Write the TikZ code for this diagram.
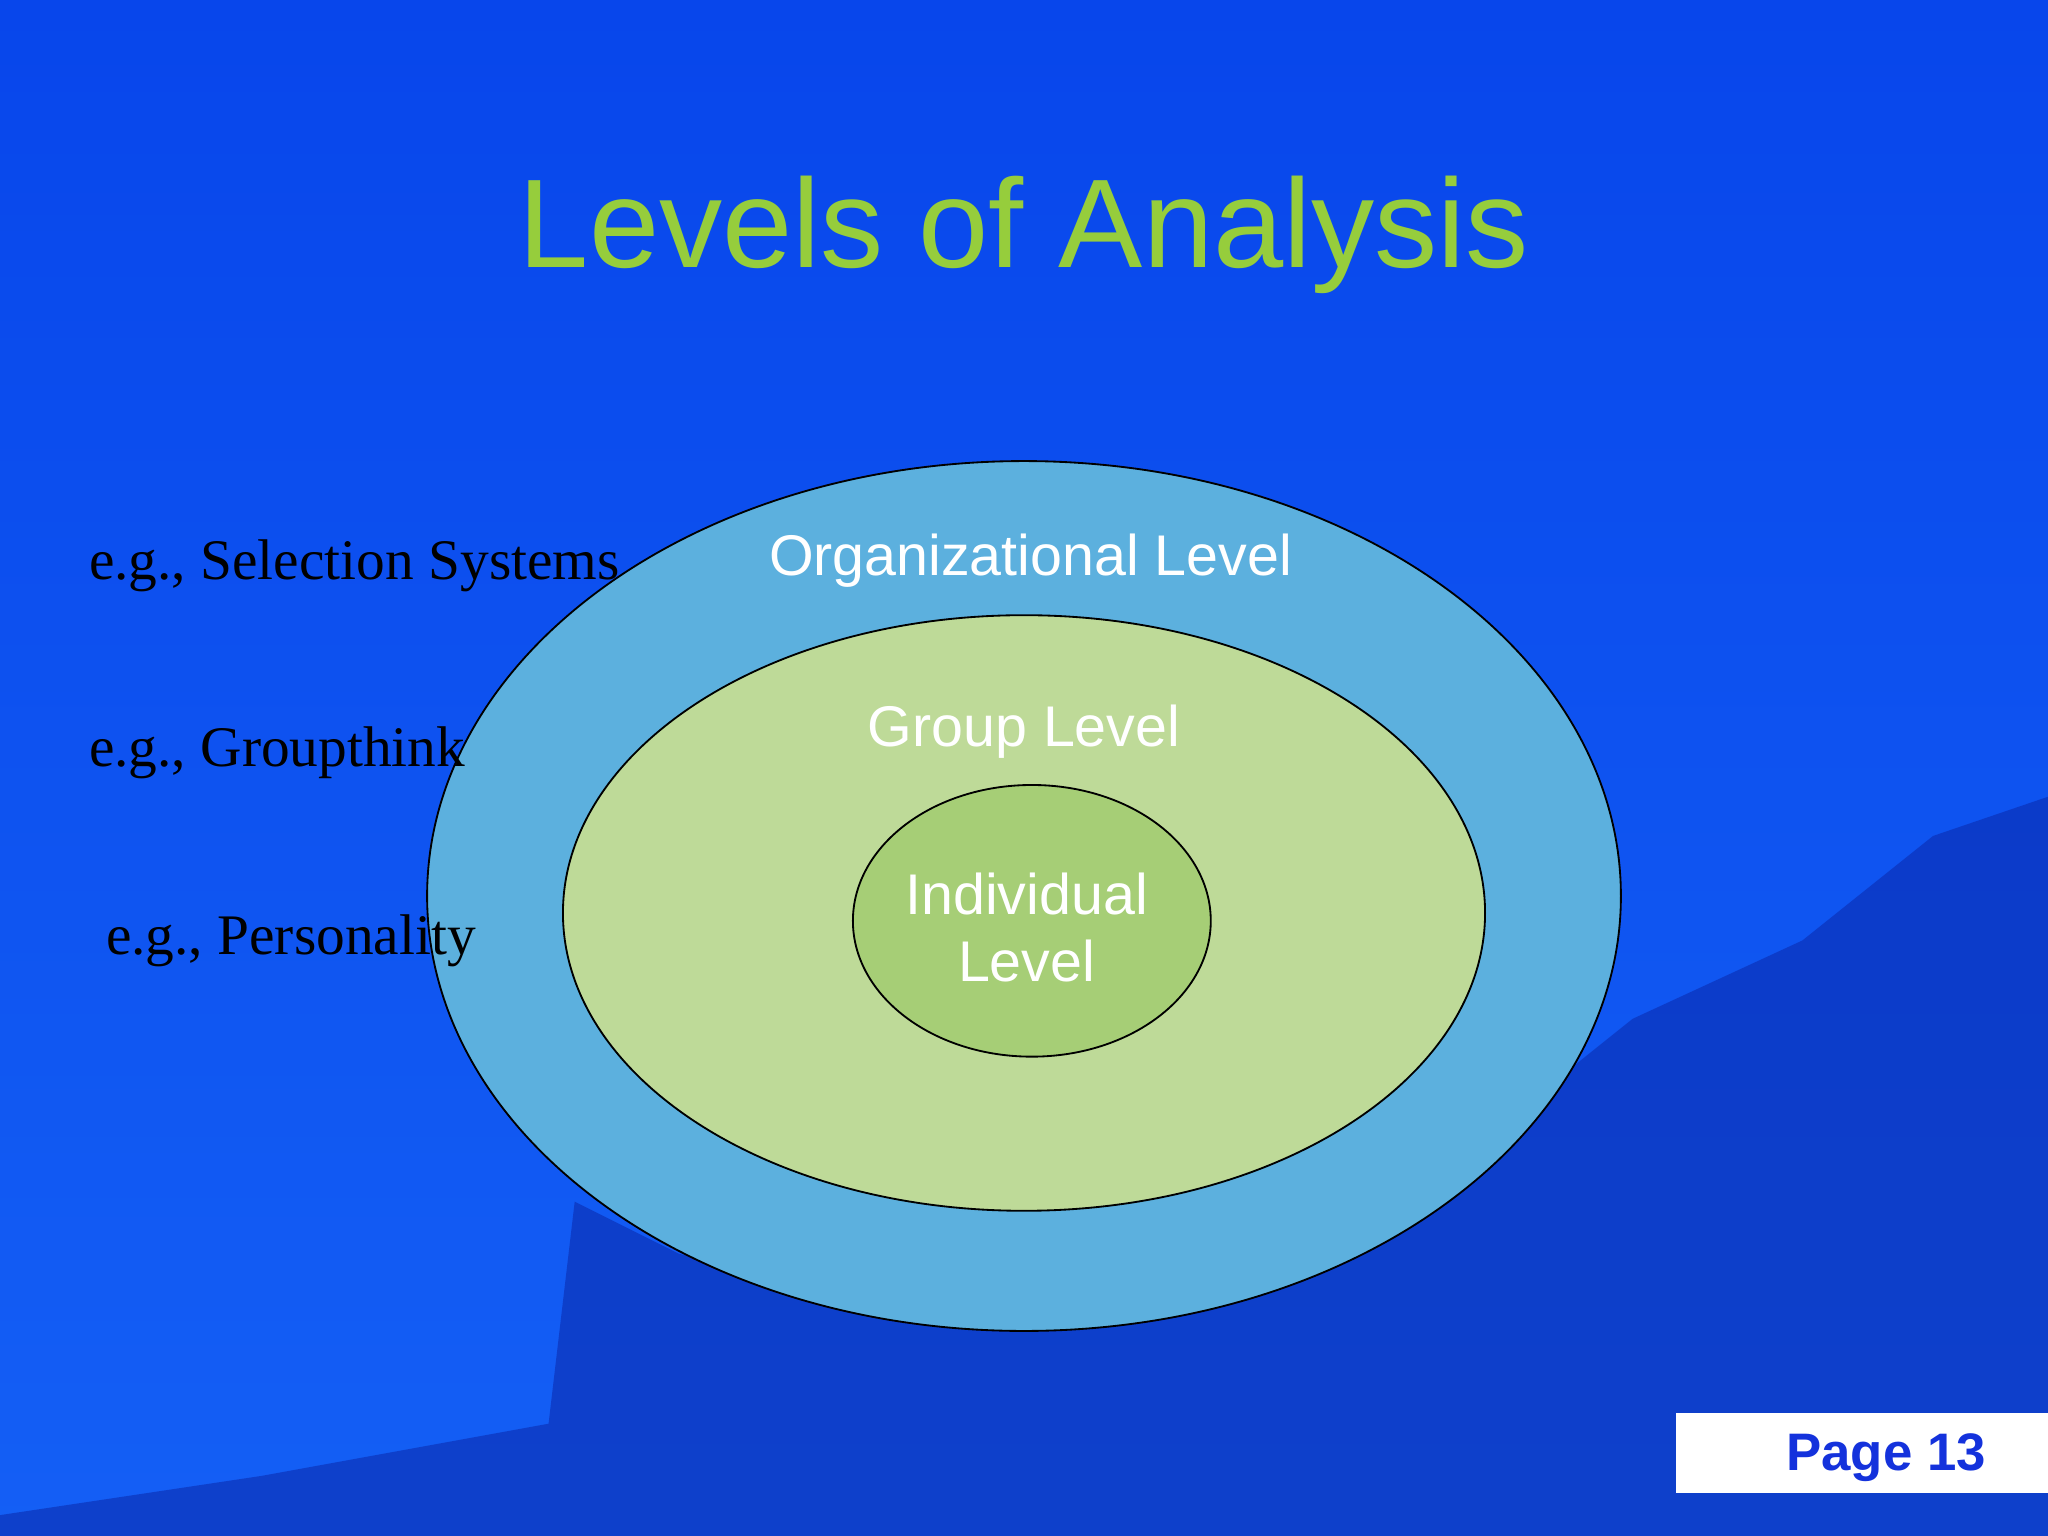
\documentclass[tikz,border=0pt]{standalone}
\usepackage{fontspec}
\setmainfont{Liberation Serif}
\newfontfamily\arialf{Liberation Sans}
\begin{document}
\begin{tikzpicture}[x=0.02cm,y=-0.02cm,
  ring/.style={draw=black,line width=0.8pt},
  lvl/.style={text=white,font=\arialf\fontsize{25}{29}\selectfont,align=center},
  eg/.style={text=black,font=\fontsize{25}{29}\selectfont,anchor=west}]
\definecolor{bgtop}{RGB}{8,70,235}
\definecolor{bgbot}{RGB}{20,95,245}
\definecolor{water}{RGB}{10,40,170}
\definecolor{orgc}{RGB}{92,176,222}
\definecolor{grpc}{RGB}{190,218,152}
\definecolor{indc}{RGB}{166,206,118}
\definecolor{titlec}{RGB}{150,205,60}
\definecolor{pagec}{RGB}{20,50,220}
\useasboundingbox (0,0) rectangle (1568,1176);
\shade[top color=bgtop,bottom color=bgbot] (0,0) rectangle (1568,1176);
\fill[water,opacity=0.55] (0,1160) -- (200,1130) -- (420,1090) -- (440,920) -- (520,960) -- (700,1000) -- (1100,900) -- (1250,780) -- (1380,720) -- (1480,640) -- (1568,610) -- (1568,1176) -- (0,1176) -- cycle;
\node[text=titlec,font=\arialf\fontsize{55}{62}\selectfont] (title) at (784,180) {Levels of Analysis};
\fill[ring,fill=orgc] (784,686) ellipse [x radius=457,y radius=333];
\fill[ring,fill=grpc] (784,699) ellipse [x radius=353,y radius=228];
\fill[ring,fill=indc] (790,705) ellipse [x radius=137,y radius=104];
\node[lvl] (org) at (789,429) {Organizational Level};
\node[lvl] (grp) at (784,560) {Group Level};
\node[lvl] (ind) at (786,710) {Individual\\Level};
\node[eg] (e1) at (62,433) {e.g., Selection Systems};
\node[eg] (e2) at (62,576) {e.g., Groupthink};
\node[eg] (e3) at (75,720) {e.g., Personality};
\fill[white] (1283,1082) rectangle (1568,1143);
\node[text=pagec,font=\arialf\bfseries\fontsize{23}{27}\selectfont] (pg) at (1444,1116) {Page 13};
\end{tikzpicture}
\end{document}
